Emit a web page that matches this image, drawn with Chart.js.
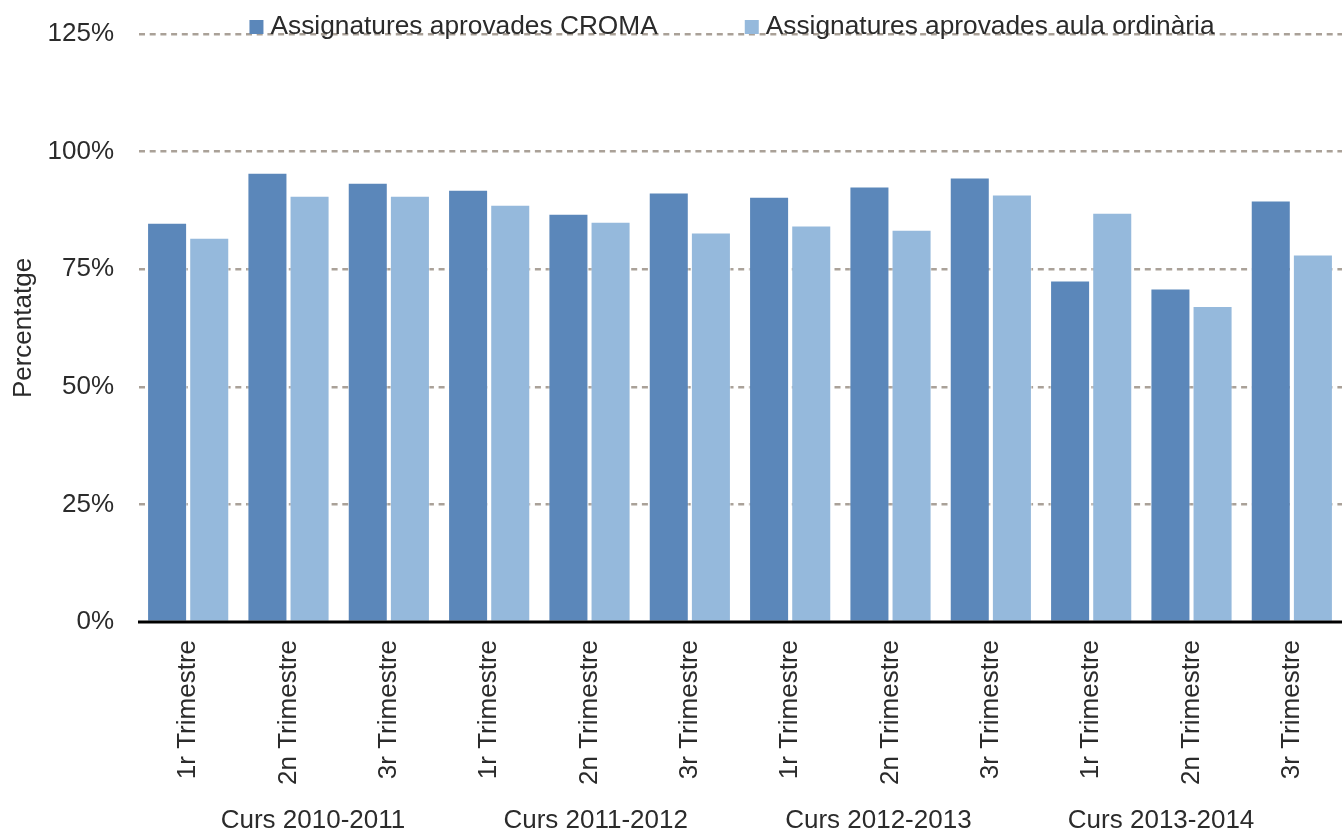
<!DOCTYPE html>
<html>
<head>
<meta charset="utf-8">
<script src="https://cdn.jsdelivr.net/npm/chart.js@4/dist/chart.umd.min.js"></script>
<style>
html,body{margin:0;padding:0;background:#fff;}
#wrap{width:1342px;height:829px;position:relative;}
</style>
</head>
<body>
<div id="wrap"><canvas id="c" width="1342" height="829"></canvas></div>
<script>
const categories = ['1r Trimestre','2n Trimestre','3r Trimestre','1r Trimestre','2n Trimestre','3r Trimestre','1r Trimestre','2n Trimestre','3r Trimestre','1r Trimestre','2n Trimestre','3r Trimestre'];
const groups = ['Curs 2010-2011','Curs 2011-2012','Curs 2012-2013','Curs 2013-2014'];
const croma = [84.9, 95.5, 93.4, 91.9, 86.8, 91.3, 90.4, 92.6, 94.5, 72.6, 70.9, 89.6];
const ordinaria = [81.7, 90.6, 90.6, 88.7, 85.1, 82.8, 84.3, 83.4, 90.9, 87.0, 67.2, 78.1];
const seriesNames = ['Assignatures aprovades CROMA','Assignatures aprovades aula ordinària'];
const yTicks = [0, 25, 50, 75, 100, 125];

const FONT = "'Liberation Sans', Arial, sans-serif";
const TXT = '#2b2b2b';
const colors = ['#5b87ba', '#95b9dc'];

const legendPlugin = {
  id: 'customLegend',
  afterDraw(chart) {
    const ctx = chart.ctx;
    const area = chart.chartArea;
    ctx.save();
    ctx.font = '26.3px ' + FONT;
    ctx.textBaseline = 'middle';
    const box = 14, gap = 7, itemGap = 87;
    const widths = seriesNames.map(n => box + gap + ctx.measureText(n).width);
    const total = widths.reduce((a, b) => a + b, 0) + itemGap;
    let x = (area.left + area.right) / 2 - total / 2 - 8;
    const y = 27;
    seriesNames.forEach((n, i) => {
      ctx.fillStyle = colors[i];
      ctx.fillRect(x, y - 7, box, box);
      ctx.fillStyle = TXT;
      ctx.fillText(n, x + box + gap, y);
      x += widths[i] + itemGap;
    });
    ctx.restore();
  }
};

new Chart(document.getElementById('c'), {
  type: 'bar',
  data: {
    labels: categories,
    datasets: [
      { label: seriesNames[0], data: croma, backgroundColor: colors[0], borderColor: 'rgba(255,255,255,0.5)', borderWidth: 1, categoryPercentage: 0.84, barPercentage: 0.95 },
      { label: seriesNames[1], data: ordinaria, backgroundColor: colors[1], borderColor: 'rgba(255,255,255,0.5)', borderWidth: 1, categoryPercentage: 0.84, barPercentage: 0.95 }
    ]
  },
  options: {
    responsive: false,
    animation: false,
    layout: { padding: { top: 34, right: 0, left: 0, bottom: 0 } },
    plugins: { legend: { display: false }, tooltip: { enabled: false } },
    scales: {
      x: {
        grid: { display: false, drawTicks: false },
        border: { display: false },
        ticks: { color: TXT, font: { size: 26, family: FONT }, minRotation: 90, maxRotation: 90, padding: 18, autoSkip: false },
        afterFit(s) { s.height = 183; s.paddingLeft = 0; s.paddingRight = 0; }
      },
      x2: {
        type: 'linear',
        position: 'bottom',
        bounds: 'data',
        offset: false,
        grace: 0,
        min: -0.619, max: 3.64,
        afterBuildTicks(axis) { axis.ticks = groups.map((g, i) => ({ value: i })); },
        grid: { display: false, drawTicks: false },
        border: { display: false },
        ticks: { color: TXT, font: { size: 26, family: FONT }, maxRotation: 0, minRotation: 0, padding: 0, autoSkip: false, callback: v => groups[v] },
        afterFit(s) { s.height = 24; s.paddingLeft = 0; s.paddingRight = 0; }
      },
      y: {
        min: 0, max: 125,
        afterBuildTicks(axis) { axis.ticks = yTicks.map(v => ({ value: v })); },
        afterFit(s) { s.width = 138; s.paddingTop = 0; s.paddingBottom = 0; },
        grid: {
          color: (c) => c.tick && c.tick.value === 0 ? 'rgba(0,0,0,0)' : '#aaa198',
          lineWidth: 2.5,
          drawTicks: false
        },
        border: { display: true, color: 'rgba(0,0,0,0)', dash: [6, 4.7] },
        ticks: { color: TXT, font: { size: 26, family: FONT }, padding: 24, callback: v => v + '%' },
        title: { display: true, text: 'Percentatge', color: TXT, font: { size: 26, family: FONT }, padding: { top: 8, bottom: 0 } }
      }
    }
  },
  plugins: [legendPlugin, {
    id: 'axisLine',
    afterDatasetsDraw(chart) {
      const ctx = chart.ctx, a = chart.chartArea, y0 = chart.scales.y.getPixelForValue(0);
      ctx.save();
      ctx.strokeStyle = '#000';
      ctx.lineWidth = 3;
      ctx.beginPath();
      ctx.moveTo(a.left, y0);
      ctx.lineTo(a.right, y0);
      ctx.stroke();
      ctx.restore();
    }
  }]
});
</script>
</body>
</html>
